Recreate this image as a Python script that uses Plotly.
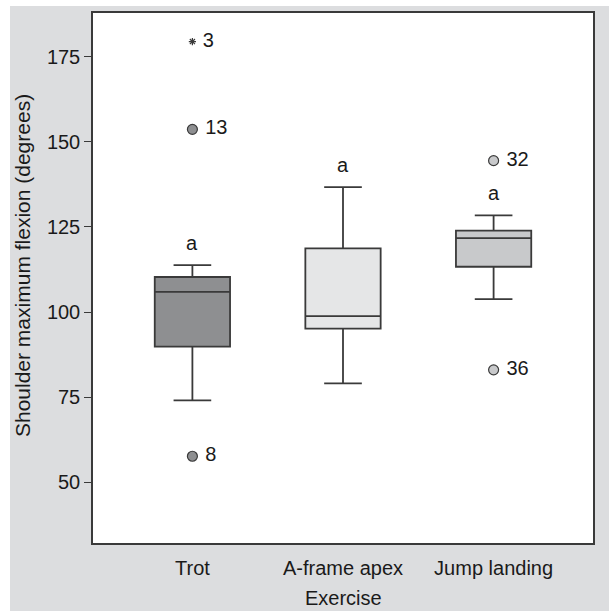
import plotly.graph_objects as go

categories = ["Trot", "A-frame apex", "Jump landing"]
q1 = [89.8, 95.1, 113.3]
median = [105.9, 98.8, 121.7]
q3 = [110.3, 118.7, 123.9]
lower_whisker = [74.0, 79.0, 103.8]
upper_whisker = [113.8, 136.7, 128.4]
box_colors = ["#8e8f91", "#e5e6e7", "#c8c9cb"]
group_letters = ["a", "a", "a"]

outlier_cat = ["Trot", "Trot", "Jump landing", "Jump landing"]
outlier_val = [153.7, 57.6, 144.5, 83.0]
outlier_id = ["13", "8", "32", "36"]
outlier_col = ["#8e8f91", "#8e8f91", "#c8c9cb", "#c8c9cb"]

extreme_cat = ["Trot"]
extreme_val = [179.5]
extreme_id = ["3"]

yticks = [50, 75, 100, 125, 150, 175]

FONT = "Liberation Sans, Arial, sans-serif"
LINE = "#3a3a3a"
FS = 20

fig = go.Figure()
for i, c in enumerate(categories):
    fig.add_trace(go.Box(
        x=[c], q1=[q1[i]], median=[median[i]], q3=[q3[i]],
        lowerfence=[lower_whisker[i]], upperfence=[upper_whisker[i]],
        fillcolor=box_colors[i], line=dict(color=LINE, width=1.8),
        width=0.5, whiskerwidth=0.5, boxpoints=False, showlegend=False,
        hoverinfo="skip",
    ))

fig.add_trace(go.Scatter(
    x=outlier_cat, y=outlier_val, text=[" " + t for t in outlier_id], mode="markers+text",
    textposition="middle right",
    textfont=dict(family=FONT, size=FS, color="#1a1a1a"),
    marker=dict(size=10, color=outlier_col, line=dict(color=LINE, width=1.2)),
    showlegend=False, cliponaxis=False,
))
fig.add_trace(go.Scatter(
    x=extreme_cat, y=extreme_val, text=[" " + t for t in extreme_id], mode="markers+text",
    textposition="middle right",
    textfont=dict(family=FONT, size=FS, color="#1a1a1a"),
    marker=dict(size=6, symbol="asterisk-open", color=LINE, line=dict(color=LINE, width=1.2)),
    showlegend=False, cliponaxis=False,
))

for i, c in enumerate(categories):
    fig.add_annotation(x=c, y=upper_whisker[i], text=group_letters[i], showarrow=False,
                       yshift=22, yanchor="middle",
                       font=dict(family=FONT, size=FS, color="#1a1a1a"))

# axis titles
fig.add_annotation(xref="paper", yref="paper", x=0.5, y=-0.1038, text="Exercise",
                   showarrow=False, xanchor="center", yanchor="middle",
                   font=dict(family=FONT, size=FS, color="#1a1a1a"))
fig.add_annotation(xref="paper", yref="paper", x=-0.142, y=0.5226,
                   text="Shoulder maximum flexion (degrees)", textangle=-90,
                   showarrow=False, xanchor="center", yanchor="middle",
                   font=dict(family=FONT, size=21, color="#1a1a1a"))

# white margins around the grey panel
fig.add_shape(type="rect", xref="paper", yref="paper", x0=-0.3, x1=-0.166, y0=-0.3, y1=1.2,
              fillcolor="white", line=dict(width=0), layer="below")
fig.add_shape(type="rect", xref="paper", yref="paper", x0=-0.3, x1=1.2, y0=1.0132, y1=1.2,
              fillcolor="white", line=dict(width=0), layer="below")

fig.update_layout(
    width=609, height=611,
    margin=dict(l=93, r=16, t=13, b=68),
    paper_bgcolor="#dcdddf", plot_bgcolor="white",
    boxmode="overlay",
    font=dict(family=FONT, size=FS, color="#1a1a1a"),
    xaxis=dict(
        type="category", categoryorder="array", categoryarray=categories,
        range=[-0.66, 2.66], showgrid=False, zeroline=False, automargin=False,
        showline=True, mirror=True, linecolor=LINE, linewidth=1.5,
        ticks="", tickfont=dict(size=FS), ticklabelstandoff=6,
    ),
    yaxis=dict(
        range=[32.1, 187.9], tickvals=yticks, showgrid=False, zeroline=False, automargin=False,
        showline=True, mirror=True, linecolor=LINE, linewidth=1.5,
        ticks="outside", ticklen=7, tickcolor=LINE, tickwidth=1.2,
        tickfont=dict(size=FS),
    ),
)

fig.write_html("out.html")
